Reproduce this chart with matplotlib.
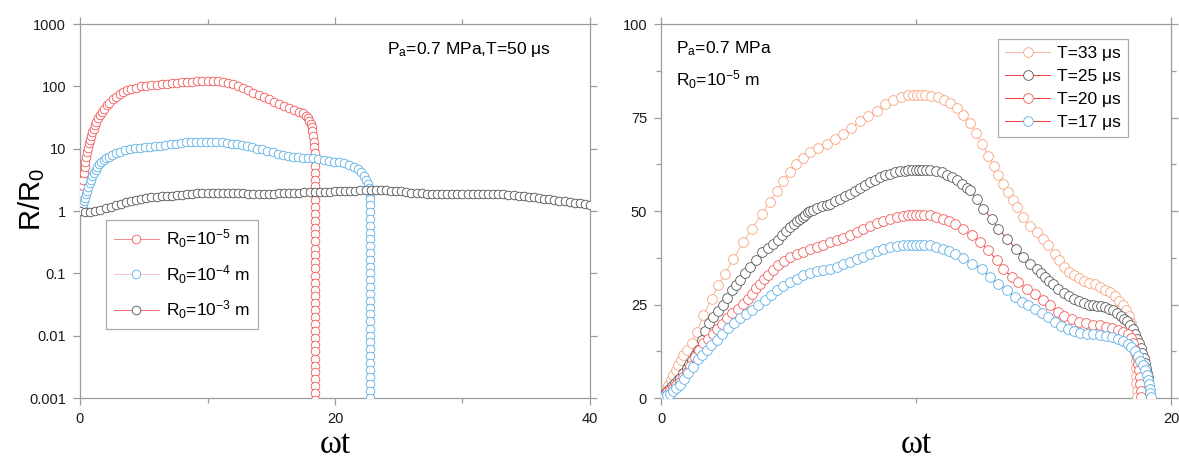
import numpy as np
import matplotlib
matplotlib.use("Agg")
import matplotlib.pyplot as plt
from matplotlib.ticker import NullLocator

plt.rcParams['font.family'] = ['Liberation Sans', 'DejaVu Sans']
plt.rcParams['mathtext.default'] = 'regular'

# ---------------- left panel: R/R0 vs wt for three initial radii (Pa=0.7 MPa, T=50 us)
red_t = [0, 0.05, 0.1, 0.15, 0.2, 0.25, 0.3, 0.36, 0.42, 0.48,
         0.55, 0.62, 0.7, 0.78, 0.87, 0.96, 1.06, 1.17, 1.29, 1.42,
         1.56, 1.72, 1.9, 2.1, 2.3, 2.55, 2.8, 3.1, 3.4, 3.7,
         4.0, 4.4, 4.8, 5.2, 5.6, 6.0, 6.4, 6.8, 7.2, 7.6,
         8.0, 8.4, 8.8, 9.2, 9.6, 10.0, 10.4, 10.8, 11.2, 11.6,
         12.0, 12.4, 12.8, 13.2, 13.6, 14.0, 14.4, 14.8, 15.2, 15.6,
         16.0, 16.4, 16.8, 17.2, 17.5, 17.7, 17.85, 17.98, 18.08, 18.16,
         18.22, 18.28, 18.33, 18.37, 18.4]
red_r = [1.0, 1.25, 1.55, 1.95, 2.5, 3.2, 4.0, 5.0, 6.1, 7.3,
         8.9, 10.4, 12.2, 14.0, 16.2, 18.4, 21, 24, 27, 31,
         35, 39, 44, 50, 55, 62, 68, 75, 81, 86,
         90, 95, 100, 102, 104, 106, 108, 110, 112, 114,
         116, 118, 119, 120, 121, 122, 122, 120, 117, 113,
         108, 102, 94, 86, 79, 72, 67, 62, 57, 52,
         48, 45, 42, 39, 37, 34, 31, 28, 25, 22,
         19, 16, 13, 10.7, 8.5]
red_collapse_t = 18.42
red_collapse_r = [6.8, 5.3, 4.1, 3.2, 2.5, 1.95, 1.5, 1.17, 0.9, 0.7, 0.54, 0.42,
                  0.33, 0.25, 0.2, 0.15, 0.12, 0.092, 0.071, 0.055, 0.043, 0.033,
                  0.026, 0.02, 0.0155, 0.012, 0.0093, 0.0072, 0.0056, 0.0043,
                  0.0033, 0.0026, 0.002, 0.00155, 0.0012, 0.00093, 0.00072]

blue_t = [0, 0.1, 0.2, 0.26, 0.33, 0.4, 0.48, 0.56, 0.65, 0.75,
          0.86, 0.98, 1.1, 1.23, 1.37, 1.52, 1.68, 1.85, 2.05, 2.25,
          2.5, 2.8, 3.1, 3.5, 3.9, 4.3, 4.7, 5.1, 5.5, 5.9,
          6.3, 6.7, 7.1, 7.5, 7.9, 8.3, 8.7, 9.1, 9.5, 9.9,
          10.3, 10.7, 11.1, 11.5, 11.9, 12.3, 12.7, 13.1, 13.5, 13.9,
          14.3, 14.7, 15.1, 15.5, 15.9, 16.3, 16.7, 17.1, 17.5, 17.9,
          18.3, 18.7, 19.1, 19.5, 19.9, 20.3, 20.7, 21.1, 21.5, 21.8,
          22.05, 22.25, 22.42, 22.55, 22.65, 22.72, 22.76]
blue_r = [1.0, 1.05, 1.15, 1.3, 1.45, 1.62, 1.85, 2.1, 2.45, 2.8,
          3.2, 3.65, 4.1, 4.6, 5.1, 5.6, 6.1, 6.6, 7.0, 7.4,
          7.9, 8.4, 8.9, 9.4, 9.8, 10.1, 10.4, 10.6, 10.8, 11.0,
          11.2, 11.5, 11.8, 12.1, 12.4, 12.6, 12.8, 12.9, 13.0, 13.0,
          13.0, 12.9, 12.7, 12.4, 12.1, 11.8, 11.5, 11.0, 10.5, 10.0,
          9.7, 9.3, 8.8, 8.3, 7.9, 7.6, 7.4, 7.3, 7.2, 7.1,
          7.0, 6.8, 6.6, 6.4, 6.2, 6.0, 5.8, 5.5, 5.1, 4.7,
          4.2, 3.7, 3.2, 2.7, 2.3, 1.9, 1.55]
blue_collapse_t = 22.78
blue_collapse_r = [1.25, 0.97, 0.75, 0.58, 0.45, 0.35, 0.27, 0.21, 0.165, 0.128,
                   0.1, 0.077, 0.06, 0.046, 0.036, 0.028, 0.022, 0.017, 0.013,
                   0.01, 0.0078, 0.006, 0.0047, 0.0036, 0.0028, 0.0022, 0.0017,
                   0.0013, 0.001, 0.0008]

black_dt = 0.4
black_r = [1.00, 0.98, 0.98, 1.00, 1.04, 1.10, 1.17, 1.24, 1.31, 1.37,
           1.43, 1.50, 1.56, 1.61, 1.65, 1.68, 1.71, 1.74, 1.77, 1.80,
           1.83, 1.86, 1.89, 1.92, 1.94, 1.96, 1.97, 1.98, 1.98, 1.97,
           1.96, 1.94, 1.92, 1.90, 1.89, 1.88, 1.88, 1.89, 1.90, 1.92,
           1.93, 1.95, 1.96, 1.98, 1.99, 2.00, 2.01, 2.02, 2.03, 2.04,
           2.06, 2.07, 2.09, 2.11, 2.13, 2.14, 2.15, 2.16, 2.16, 2.15,
           2.14, 2.12, 2.09, 2.06, 2.02, 1.98, 1.94, 1.91, 1.88, 1.86,
           1.85, 1.85, 1.85, 1.86, 1.86, 1.87, 1.87, 1.88, 1.88, 1.88,
           1.87, 1.86, 1.85, 1.84, 1.82, 1.80, 1.77, 1.74, 1.70, 1.66,
           1.62, 1.58, 1.54, 1.50, 1.47, 1.43, 1.40, 1.36, 1.32, 1.28,
           1.25]
black_t = np.arange(len(black_r)) * black_dt

left_labels = [r'R$_{0}$=10$^{-5}$ m', r'R$_{0}$=10$^{-4}$ m', r'R$_{0}$=10$^{-3}$ m']
left_yticks = [1e-3, 1e-2, 1e-1, 1, 10, 100, 1000]
left_yticklabels = ['0.001', '0.01', '0.1', '1', '10', '100', '1000']

# ---------------- right panel: R/R0 vs wt for four periods (Pa=0.7 MPa, R0=1e-5 m)
t33_t = [0, 0.05, 0.12, 0.2, 0.29, 0.38, 0.48, 0.58, 0.68, 0.78,
         0.88, 1.0, 1.2, 1.4, 1.66, 1.99, 2.25, 2.51, 2.84, 3.23,
         3.56, 3.95, 4.27, 4.55, 4.8, 5.05, 5.3, 5.55, 5.84, 6.15,
         6.5, 6.82, 7.15, 7.47, 7.8, 8.12, 8.46, 8.8, 9.1, 9.4,
         9.7, 9.9, 10.05, 10.2, 10.35, 10.6, 10.85, 11.1, 11.35, 11.6,
         11.85, 12.1, 12.35, 12.6, 12.84, 13.05, 13.23, 13.42, 13.62, 13.8,
         13.97, 14.2, 14.47, 14.73, 14.99, 15.19, 15.45, 15.6, 15.8, 16.0,
         16.2, 16.4, 16.6, 16.8, 17.0, 17.2, 17.4, 17.6, 17.8, 17.98,
         18.13, 18.25, 18.35, 18.43, 18.5, 18.54, 18.57, 18.59, 18.61, 18.62,
         18.63, 18.64, 18.65, 18.65]
t33_r = [0, 0.6, 1.4, 2.3, 3.5, 4.8, 6.1, 7.4, 8.8, 10.1,
         11.5, 12.9, 14.6, 17.7, 22.1, 26.6, 30.1, 33.2, 37.2, 41.7,
         45.2, 49.2, 52.4, 55.3, 58.1, 60.5, 62.5, 64.2, 65.7, 66.8,
         67.9, 69.2, 70.6, 72.3, 74.1, 75.5, 76.8, 78.6, 79.8, 80.5,
         80.9, 81.0, 81.0, 81.0, 81.0, 80.8, 80.4, 79.8, 78.8, 77.5,
         75.7, 73.5, 70.8, 67.9, 64.8, 62.0, 59.5, 57.2, 55.0, 53.0,
         51.0, 48.3, 46.1, 44.4, 42.6, 40.8, 38.6, 36.8, 35.0, 33.8,
         33.0, 32.2, 31.3, 30.8, 30.4, 29.8, 29.0, 28.3, 27.2, 26.0,
         25.0, 23.5, 21.8, 20.0, 18.0, 16.0, 14.0, 12.0, 10.0, 8.0,
         6.0, 4.0, 2.0, 0.3]

t25_t = [0, 0.05, 0.12, 0.2, 0.3, 0.42, 0.55, 0.66, 0.75, 0.88,
         1.0, 1.1, 1.2, 1.33, 1.46, 1.6, 1.73, 1.88, 2.05, 2.25,
         2.44, 2.6, 2.77, 2.94, 3.1, 3.3, 3.49, 3.72, 3.95, 4.18,
         4.4, 4.57, 4.73, 4.9, 5.06, 5.2, 5.33, 5.45, 5.56, 5.66,
         5.76, 5.84, 5.97, 6.1, 6.3, 6.5, 6.63, 6.82, 7.02, 7.22,
         7.41, 7.6, 7.8, 8.0, 8.2, 8.4, 8.6, 8.8, 8.98, 9.18,
         9.38, 9.55, 9.7, 9.85, 10.0, 10.12, 10.25, 10.4, 10.55, 10.8,
         11.0, 11.2, 11.4, 11.6, 11.79, 12.0, 12.12, 12.38, 12.64, 12.97,
         13.23, 13.58, 13.92, 14.21, 14.47, 14.73, 14.9, 15.06, 15.22, 15.39,
         15.58, 15.8, 16.0, 16.2, 16.4, 16.6, 16.8, 16.95, 17.1, 17.25,
         17.4, 17.56, 17.72, 17.87, 18.02, 18.15, 18.26, 18.38, 18.5, 18.6,
         18.68, 18.75, 18.82, 18.88, 18.94, 18.99, 19.03, 19.06, 19.09, 19.11,
         19.13, 19.14, 19.15]
t25_r = [0, 0.4, 1.0, 1.7, 2.5, 3.3, 4.1, 4.8, 5.4, 6.7,
         8.0, 9.0, 10.1, 11.4, 12.8, 15.4, 17.8, 20.0, 21.7, 23.3,
         24.8, 26.8, 28.8, 30.2, 31.5, 33.3, 35.0, 37.0, 39.0, 40.1,
         41.2, 42.3, 43.5, 44.6, 45.7, 46.6, 47.4, 47.9, 48.5, 49.0,
         49.6, 50.1, 50.4, 50.8, 51.3, 51.6, 51.9, 52.6, 53.2, 54.0,
         54.6, 55.4, 56.2, 57.0, 57.7, 58.4, 59.0, 59.5, 59.9, 60.3,
         60.6, 60.8, 60.9, 61.0, 61.0, 61.0, 61.0, 61.0, 60.9, 60.6,
         60.3, 59.7, 59.0, 58.2, 57.3, 56.2, 55.5, 53.2, 50.6, 47.9,
         45.2, 42.6, 39.9, 37.7, 35.9, 34.6, 33.5, 32.3, 31.4, 30.6,
         29.2, 28.2, 27.3, 26.5, 25.9, 25.4, 25.0, 24.8, 24.7, 24.6,
         24.3, 23.9, 23.4, 22.8, 22.0, 21.2, 20.6, 19.6, 18.4, 17.0,
         15.8, 14.6, 13.3, 12.0, 10.7, 9.4, 8.1, 6.8, 5.5, 4.2,
         2.9, 1.6, 0.3]

t20_t = [0, 0.05, 0.15, 0.25, 0.35, 0.47, 0.6, 0.75, 0.88, 1.0,
         1.15, 1.33, 1.5, 1.66, 1.85, 2.05, 2.2, 2.38, 2.58, 2.77,
         3.0, 3.23, 3.4, 3.56, 3.72, 3.88, 4.04, 4.21, 4.4, 4.6,
         4.83, 5.06, 5.32, 5.58, 5.84, 6.1, 6.37, 6.63, 6.9, 7.15,
         7.41, 7.67, 7.94, 8.2, 8.46, 8.72, 8.98, 9.24, 9.5, 9.7,
         9.85, 10.0, 10.15, 10.3, 10.55, 10.8, 11.07, 11.3, 11.53, 11.85,
         12.18, 12.51, 12.84, 13.16, 13.42, 13.75, 14.01, 14.34, 14.67, 14.99,
         15.25, 15.58, 15.8, 16.1, 16.38, 16.68, 16.95, 17.2, 17.45, 17.7,
         17.93, 18.13, 18.3, 18.42, 18.52, 18.6, 18.66, 18.71, 18.75, 18.78,
         18.8, 18.81, 18.82]
t20_r = [0, 0.3, 0.9, 1.5, 2.1, 2.8, 3.5, 4.3, 5.6, 7.0,
         8.5, 11.0, 12.8, 14.6, 15.9, 17.2, 18.5, 19.9, 21.3, 22.6,
         23.9, 25.2, 26.6, 27.9, 29.3, 30.6, 31.7, 32.8, 34.2, 35.5,
         36.6, 37.7, 38.4, 39.0, 39.8, 40.4, 41.0, 41.7, 42.3, 42.9,
         43.5, 44.4, 45.2, 46.1, 46.8, 47.4, 47.9, 48.3, 48.6, 48.8,
         48.9, 49.0, 49.0, 48.9, 48.8, 48.4, 47.9, 47.3, 46.6, 45.2,
         43.5, 41.7, 39.5, 36.8, 34.6, 32.3, 31.0, 29.2, 27.9, 26.1,
         24.8, 23.0, 22.0, 21.0, 20.3, 20.0, 19.6, 19.4, 19.1, 18.7,
         18.2, 17.6, 17.0, 16.0, 14.6, 12.8, 11.0, 9.2, 7.4, 5.6,
         3.8, 2.0, 0.3]

t17_t = [0, 0.05, 0.15, 0.25, 0.35, 0.48, 0.6, 0.75, 0.9, 1.07,
         1.25, 1.46, 1.62, 1.79, 1.98, 2.18, 2.4, 2.64, 2.87, 3.1,
         3.33, 3.56, 3.82, 4.08, 4.31, 4.54, 4.8, 5.06, 5.32, 5.58,
         5.84, 6.1, 6.37, 6.63, 6.9, 7.15, 7.41, 7.67, 7.94, 8.2,
         8.46, 8.72, 8.98, 9.24, 9.5, 9.7, 9.85, 10.0, 10.15, 10.3,
         10.55, 10.8, 11.07, 11.3, 11.53, 11.85, 12.18, 12.58, 12.9, 13.23,
         13.56, 13.88, 14.14, 14.41, 14.67, 14.93, 15.19, 15.45, 15.7, 15.95,
         16.2, 16.45, 16.7, 16.95, 17.2, 17.45, 17.7, 17.92, 18.12, 18.3,
         18.45, 18.58, 18.7, 18.8, 18.9, 18.98, 19.05, 19.1, 19.14, 19.17,
         19.19, 19.2]
t17_r = [0, 0.2, 0.5, 0.8, 1.2, 1.9, 2.6, 3.5, 5.0, 6.6,
         8.2, 10.3, 11.6, 12.8, 14.1, 15.5, 17.0, 18.6, 20.0, 21.3,
         22.4, 23.5, 24.8, 26.1, 27.5, 28.8, 29.9, 31.0, 31.9, 32.8,
         33.3, 34.0, 34.3, 34.6, 35.1, 35.7, 36.3, 37.1, 37.8, 38.6,
         39.2, 39.8, 40.3, 40.6, 40.8, 40.9, 41.0, 41.0, 41.0, 41.0,
         40.8, 40.4, 39.9, 39.3, 38.6, 37.3, 35.9, 34.6, 32.3, 30.6,
         28.8, 27.0, 25.7, 24.8, 23.9, 22.6, 21.7, 20.3, 19.2, 18.4,
         17.8, 17.4, 17.2, 17.0, 16.9, 16.6, 16.3, 15.8, 15.2, 14.5,
         13.6, 12.5, 11.3, 10.0, 8.7, 7.4, 6.1, 4.9, 3.7, 2.5,
         1.3, 0.2]

right_labels = ['T=33 μs', 'T=25 μs', 'T=20 μs', 'T=17 μs']
right_yticks = [0, 25, 50, 75, 100]

# ---------------- figure
fig = plt.figure(figsize=(11.79, 4.63), dpi=100)
W, H = 1179.0, 463.0
ax1 = fig.add_axes([80 / W, 65 / H, 510 / W, 374 / H])
ax2 = fig.add_axes([661 / W, 65 / H, 510 / W, 374 / H])

frame_c = '#9c9c9c'


def style_axes(ax):
    for s in ax.spines.values():
        s.set_color(frame_c)
        s.set_linewidth(0.9)
    ax.tick_params(which='both', direction='out', color=frame_c, width=0.9,
                   top=True, right=True, labelsize=10.5, labelcolor='#1a1a1a')
    ax.tick_params(which='major', length=5)
    ax.tick_params(which='minor', length=3.5)
    ax.tick_params(axis='x', pad=5)
    ax.tick_params(axis='y', pad=5)


def draw(ax, x, y, line_c, mark_c, label, ms, z):
    ax.plot(x, y, '-', color=line_c, lw=0.7, marker='o', ms=ms,
            mfc='white', mec=mark_c, mew=0.6, label=label, zorder=z)


# left panel curves
draw(ax1, red_t + [red_collapse_t] * len(red_collapse_r), red_r + red_collapse_r,
     '#f58a8a', '#f25555', left_labels[0], 6.2, 3)
draw(ax1, blue_t + [blue_collapse_t] * len(blue_collapse_r), blue_r + blue_collapse_r,
     '#f8c6c6', '#5aaee6', left_labels[1], 6.2, 4)
draw(ax1, black_t, black_r, '#f26a6a', '#505050', left_labels[2], 6.2, 5)

ax1.set_yscale('log')
ax1.set_xlim(0, 40)
ax1.set_ylim(1e-3, 1e3)
ax1.set_yticks(left_yticks)
ax1.set_yticklabels(left_yticklabels)
ax1.yaxis.set_minor_locator(NullLocator())
ax1.set_xticks([0, 20, 40])
ax1.set_xticks([10, 30], minor=True)
style_axes(ax1)

ax1.set_xlabel('ωt', family='Liberation Serif', fontsize=24)
ax1.xaxis.label.set_va('baseline')
ax1.xaxis.set_label_coords(0.5, -0.148)
ax1.set_ylabel(r'R/R$_{0}$', fontsize=21)
ax1.yaxis.label.set_va('center')
ax1.yaxis.set_label_coords(-0.094, 0.53)

ax1.text(0.602, 0.933, r'P$_{a}$=0.7 MPa,T=50 μs', transform=ax1.transAxes,
         fontsize=12.5, va='center', ha='left')

leg1 = ax1.legend(loc='lower left', bbox_to_anchor=(0.051, 0.184), borderaxespad=0,
                  fontsize=12.5, handlelength=2.6, labelspacing=0.75, fancybox=False,
                  edgecolor='#aaaaaa', framealpha=1, borderpad=0.45, handletextpad=0.4)
leg1.get_frame().set_linewidth(0.9)

# right panel curves
draw(ax2, t33_t, t33_r, '#f9b6a0', '#f8a27a', right_labels[0], 7.0, 3)
draw(ax2, t25_t, t25_r, '#f03c3c', '#555555', right_labels[1], 7.0, 4)
draw(ax2, t20_t, t20_r, '#f03c3c', '#f25a5a', right_labels[2], 7.0, 5)
draw(ax2, t17_t, t17_r, '#f03c3c', '#5aaee6', right_labels[3], 7.0, 6)

ax2.set_xlim(0, 20)
ax2.set_ylim(0, 100)
ax2.set_yticks(right_yticks)
ax2.set_yticks([12.5, 37.5, 62.5, 87.5], minor=True)
ax2.set_xticks([0, 20])
ax2.set_xticks([10], minor=True)
style_axes(ax2)

ax2.set_xlabel('ωt', family='Liberation Serif', fontsize=24)
ax2.xaxis.label.set_va('baseline')
ax2.xaxis.set_label_coords(0.5, -0.148)

ax2.text(0.029, 0.933, r'P$_{a}$=0.7 MPa', transform=ax2.transAxes,
         fontsize=12.5, va='center', ha='left')
ax2.text(0.029, 0.85, r'R$_{0}$=10$^{-5}$ m', transform=ax2.transAxes,
         fontsize=12.5, va='center', ha='left')

leg2 = ax2.legend(loc='upper left', bbox_to_anchor=(0.661, 0.96), borderaxespad=0,
                  fontsize=12.5, handlelength=2.6, labelspacing=0.45, fancybox=False,
                  edgecolor='#aaaaaa', framealpha=1, borderpad=0.4, handletextpad=0.4)
leg2.get_frame().set_linewidth(0.9)

fig.savefig('out.png', dpi=100)
